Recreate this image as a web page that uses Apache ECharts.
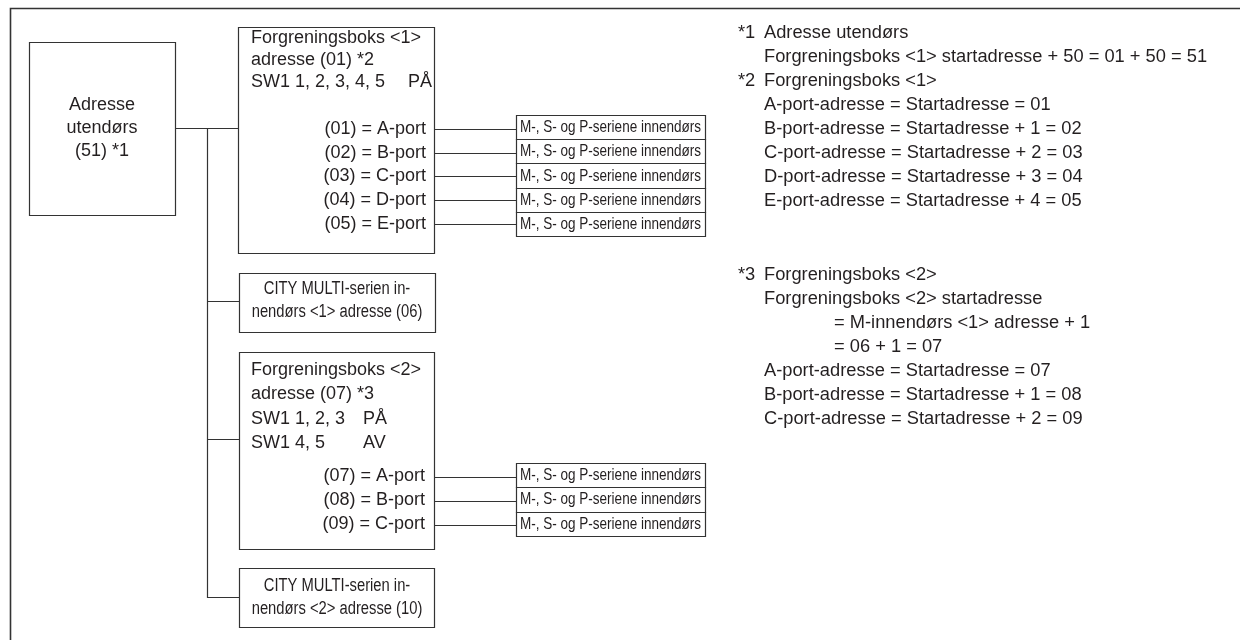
<!DOCTYPE html>
<html><head><meta charset="utf-8">
<script src="https://cdn.jsdelivr.net/npm/echarts@6/dist/echarts.min.js"></script>
<style>html,body{margin:0;padding:0;background:#fff}#c{width:1240px;height:640px}</style>
</head><body><div id="c"></div>
<script>
// ---------------- content ----------------
const outdoorLines = ['Adresse', 'utendørs', '(51) *1'];
const box1Head = ['Forgreningsboks <1>', 'adresse (01) *2'];
const box1Switch = ['SW1 1, 2, 3, 4, 5'];
const box1SwitchState = ['PÅ'];
const box1Ports = ['(01) = A-port', '(02) = B-port', '(03) = C-port', '(04) = D-port', '(05) = E-port'];
const box2Head = ['Forgreningsboks <2>', 'adresse (07) *3'];
const box2Switch = ['SW1 1, 2, 3', 'SW1 4, 5'];
const box2SwitchState = ['PÅ', 'AV'];
const box2Ports = ['(07) = A-port', '(08) = B-port', '(09) = C-port'];
const indoorUnit = 'M-, S- og P-seriene innendørs';
const city1Lines = ['CITY MULTI-serien in-', 'nendørs <1> adresse (06)'];
const city2Lines = ['CITY MULTI-serien in-', 'nendørs <2> adresse (10)'];
const note1Marks = ['*1', '', '*2', '', '', '', '', ''];
const note1Lines = [
  'Adresse utendørs',
  'Forgreningsboks <1> startadresse + 50 = 01 + 50 = 51',
  'Forgreningsboks <1>',
  'A-port-adresse = Startadresse = 01',
  'B-port-adresse = Startadresse + 1 = 02',
  'C-port-adresse = Startadresse + 2 = 03',
  'D-port-adresse = Startadresse + 3 = 04',
  'E-port-adresse = Startadresse + 4 = 05'
];
const note3Marks = ['*3', '', '', '', '', '', ''];
const note3Lines = [
  'Forgreningsboks <2>',
  'Forgreningsboks <2> startadresse',
  '= M-innendørs <1> adresse + 1',
  '= 06 + 1 = 07',
  'A-port-adresse = Startadresse = 07',
  'B-port-adresse = Startadresse + 1 = 08',
  'C-port-adresse = Startadresse + 2 = 09'
];
const note3Indent = [0, 0, 1, 1, 0, 0, 0];

// ---------------- layout (diagram geometry, in canvas units) ----------------
const INK = '#231f20';
const LINE = '#333333';
const FAMILY = '"Liberation Sans", Arial, Helvetica, sans-serif';
const F_REG = '18px ' + FAMILY;
const F_NOTE = '18.3px ' + FAMILY;
const F_NAR = '18px ' + FAMILY;      // drawn horizontally condensed
const F_NAR_S = '16.5px ' + FAMILY;  // drawn horizontally condensed
const NARROW = 0.82;

const boxes = [];   // [x1,y1,x2,y2]
const texts = [];   // {t,x,y,align,font,sx}
const wires = [];   // {pts, w}

// outer frame
wires.push({ pts: [[10, 640], [10, 8], [1240, 8]], w: 1.6 });

// outdoor unit
boxes.push([29, 42, 175, 215]);
outdoorLines.forEach((t, i) => texts.push({ t, x: 102, y: 105 + 23 * i, align: 'center', font: F_REG }));

// trunk
wires.push({ pts: [[175, 128], [238, 128]], w: 1.2 });
wires.push({ pts: [[207, 128], [207, 597], [239, 597]], w: 1.2 });
wires.push({ pts: [[207, 301], [239, 301]], w: 1.2 });
wires.push({ pts: [[207, 439], [239, 439]], w: 1.2 });

// branch box 1
boxes.push([238, 27, 434, 253]);
box1Head.forEach((t, i) => texts.push({ t, x: 251, y: 38 + 22 * i, align: 'left', font: F_REG }));
box1Switch.forEach((t, i) => {
  texts.push({ t, x: 251, y: 82 + 22 * i, align: 'left', font: F_REG });
  texts.push({ t: box1SwitchState[i], x: 408, y: 82 + 22 * i, align: 'left', font: F_REG });
});
box1Ports.forEach((t, i) => {
  const y = 129 + 23.7 * i;
  texts.push({ t, x: 426, y, align: 'right', font: F_REG });
  wires.push({ pts: [[434, y], [516, y]], w: 1.2 });
  const top = 115 + 24.2 * i;
  boxes.push([516, top, 705, top + 24.2]);
  texts.push({ t: indoorUnit, x: 610.5, y: top + 12.6, align: 'center', font: F_NAR_S, sx: NARROW });
});

// CITY MULTI 1
boxes.push([239, 273, 435, 332]);
city1Lines.forEach((t, i) => texts.push({ t, x: 337, y: 289 + 23 * i, align: 'center', font: F_NAR, sx: NARROW }));

// branch box 2
boxes.push([239, 352, 434, 549]);
box2Head.forEach((t, i) => texts.push({ t, x: 251, y: 370 + 24 * i, align: 'left', font: F_REG }));
box2Switch.forEach((t, i) => {
  texts.push({ t, x: 251, y: 419 + 24 * i, align: 'left', font: F_REG });
  texts.push({ t: box2SwitchState[i], x: 363, y: 419 + 24 * i, align: 'left', font: F_REG });
});
box2Ports.forEach((t, i) => {
  const y = 477 + 24 * i;
  texts.push({ t, x: 425, y: y - 1, align: 'right', font: F_REG });
  wires.push({ pts: [[434, y], [516, y]], w: 1.2 });
  const top = 463 + 24.33 * i;
  boxes.push([516, top, 705, top + 24.33]);
  texts.push({ t: indoorUnit, x: 610.5, y: top + 12.6, align: 'center', font: F_NAR_S, sx: NARROW });
});

// CITY MULTI 2
boxes.push([239, 568, 434, 627]);
city2Lines.forEach((t, i) => texts.push({ t, x: 337, y: 586 + 23 * i, align: 'center', font: F_NAR, sx: NARROW }));

// notes
note1Lines.forEach((t, i) => {
  const y = 33 + 24 * i;
  if (note1Marks[i]) texts.push({ t: note1Marks[i], x: 738, y, align: 'left', font: F_NOTE });
  texts.push({ t, x: 764, y, align: 'left', font: F_NOTE });
});
note3Lines.forEach((t, i) => {
  const y = 275 + 24 * i;
  if (note3Marks[i]) texts.push({ t: note3Marks[i], x: 738, y, align: 'left', font: F_NOTE });
  texts.push({ t, x: note3Indent[i] ? 834 : 764, y, align: 'left', font: F_NOTE });
});

// ---------------- chart ----------------
const chart = echarts.init(document.getElementById('c'), null, { renderer: 'canvas' });

function px(v) { return Math.round(v) + 0.5; }

chart.setOption({
  animation: false,
  backgroundColor: '#ffffff',
  grid: { left: 0, right: 0, top: 0, bottom: 0 },
  xAxis: { type: 'value', min: 0, max: 1240, show: false },
  yAxis: { type: 'value', min: 0, max: 640, inverse: true, show: false },
  series: [
    {
      type: 'custom', name: 'wires', clip: false, silent: true,
      data: wires.map(w => w.pts[0]),
      encode: { x: 0, y: 1 },
      renderItem: (params, api) => {
        const w = wires[params.dataIndex];
        const pts = w.pts.map(p => { const c = api.coord(p); return [px(c[0]), px(c[1])]; });
        return { type: 'polyline', shape: { points: pts }, style: { stroke: LINE, lineWidth: w.w, fill: null } };
      }
    },
    {
      type: 'custom', name: 'boxes', clip: false, silent: true,
      data: boxes.map(b => [b[0], b[1]]),
      encode: { x: 0, y: 1 },
      renderItem: (params, api) => {
        const b = boxes[params.dataIndex];
        const a = api.coord([b[0], b[1]]), c = api.coord([b[2], b[3]]);
        const x = px(a[0]), y = px(a[1]);
        return { type: 'rect', shape: { x, y, width: Math.round(c[0]) - Math.round(a[0]), height: Math.round(c[1]) - Math.round(a[1]) },
          style: { fill: '#ffffff', stroke: LINE, lineWidth: 1.2 } };
      }
    },
    {
      type: 'custom', name: 'texts', clip: false, silent: true,
      data: texts.map(t => [t.x, t.y]),
      encode: { x: 0, y: 1 },
      renderItem: (params, api) => {
        const t = texts[params.dataIndex];
        const c = api.coord([t.x, t.y]);
        return { type: 'text', z2: 10, x: c[0], y: c[1], scaleX: t.sx || 1, scaleY: 1,
          style: { text: t.t, x: 0, y: 0, font: t.font, fill: INK, align: t.align, verticalAlign: 'middle' } };
      }
    }
  ]
});
</script>
</body></html>
